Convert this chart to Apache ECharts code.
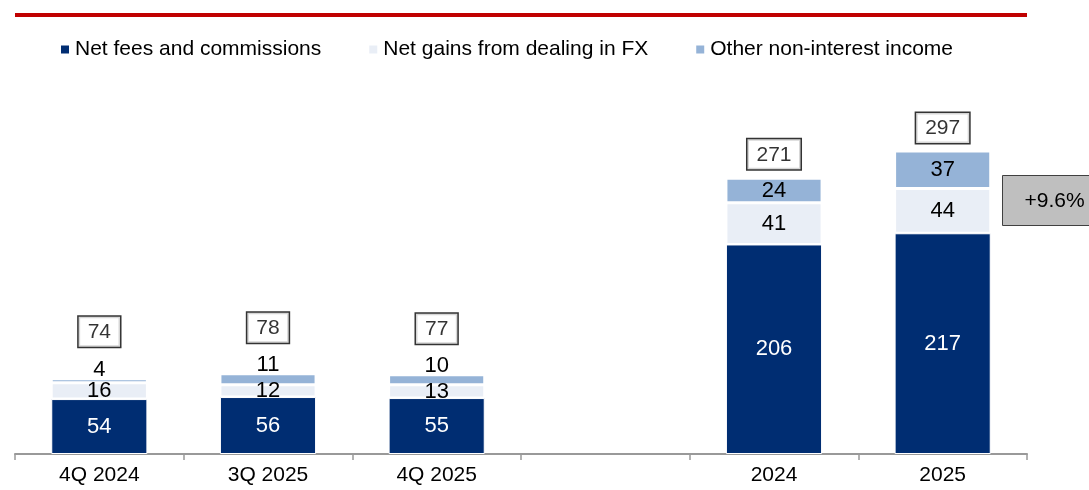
<html>
<head>
<meta charset="UTF-8">
<script src="https://cdn.jsdelivr.net/npm/echarts@6/dist/echarts.min.js"></script>
<title>Non-interest income</title>
</head>
<body style="margin:0">
<div id="pic" style="width:1089px;height:490px"></div>
<script>
"use strict";

const cats=["4Q 2024","3Q 2025","4Q 2025","","2024","2025"];
const fees=[54,56,55,null,206,217];
const fx=[16,12,13,null,41,44];
const other=[4,11,10,null,24,37];
const totals=[74,78,77,null,271,297];
const growth="+9.6%";

const F="Liberation Sans, Arial, sans-serif";
const quarterly=[true,true,true,false,false,false];

let pic=echarts.init(document.getElementById("pic"));
let option=
{
	animation:false,
	textStyle:{fontFamily:F},
	legend:{
		left:54,top:34,
		icon:"rect",itemWidth:10,itemHeight:10,itemGap:46,
		textStyle:{fontSize:21,color:"#000",fontFamily:F},
		data:["Net fees and commissions","Net gains from dealing in FX","Other non-interest income"]
	},
	grid:{left:15,right:62,top:98,bottom:36},
	xAxis:{
		type:"category",data:cats,
		axisLine:{lineStyle:{color:"#999",width:2}},
		axisTick:{show:true,length:6,lineStyle:{color:"#999",width:1.5}},
		axisLabel:{fontSize:21,color:"#000",margin:11,fontFamily:F}
	},
	yAxis:{type:"value",min:0,max:350,show:false,splitLine:{show:false}},
	series:[
		{
			name:"Net fees and commissions",type:"bar",stack:"a",barWidth:"57%",
			data:fees,
			itemStyle:{color:"#002D72",borderColor:"#fff",borderWidth:1},
			label:{show:true,position:"inside",color:"#fff",fontSize:22,fontFamily:F}
		},
		{
			name:"Net gains from dealing in FX",type:"bar",stack:"a",
			data:fx,
			itemStyle:{color:"#E9EEF6",borderColor:"#fff",borderWidth:1.5},
			label:{show:true,position:"inside",color:"#000",fontSize:22,fontFamily:F}
		},
		{
			name:"Other non-interest income",type:"bar",stack:"a",
			data:other.map((v,i)=>quarterly[i]?{value:v,label:{position:"top",distance:-2}}:v),
			itemStyle:{color:"#95B3D7",borderColor:"#fff",borderWidth:1.5},
			label:{show:true,position:"inside",color:"#000",fontSize:22,fontFamily:F}
		},
		{
			name:"total",type:"scatter",symbolSize:0,
			data:totals.map((v,i)=>({value:v,label:{distance:quarterly[i]?32:9}})),
			label:{
				show:true,position:"top",color:"#000",fontSize:21,fontFamily:F,
				borderColor:"#000",borderWidth:1.5,padding:[5,9,4,9],backgroundColor:"#fff"
			},
			silent:true
		}
	],
	graphic:[
		{type:"rect",shape:{x:0,y:15,width:1012,height:4},left:15,top:13,style:{fill:"#C00000"}},
		{
			type:"group",left:1002,top:175,
			children:[
				{type:"rect",shape:{x:0,y:0,width:90,height:50},style:{fill:"#BFBFBF",stroke:"#404040",lineWidth:1}},
				{type:"text",x:22,y:15,style:{text:growth,fontSize:21,fill:"#000",fontFamily:F}}
			]
		}
	]
};
pic.setOption(option);
</script>
</body>
</html>
